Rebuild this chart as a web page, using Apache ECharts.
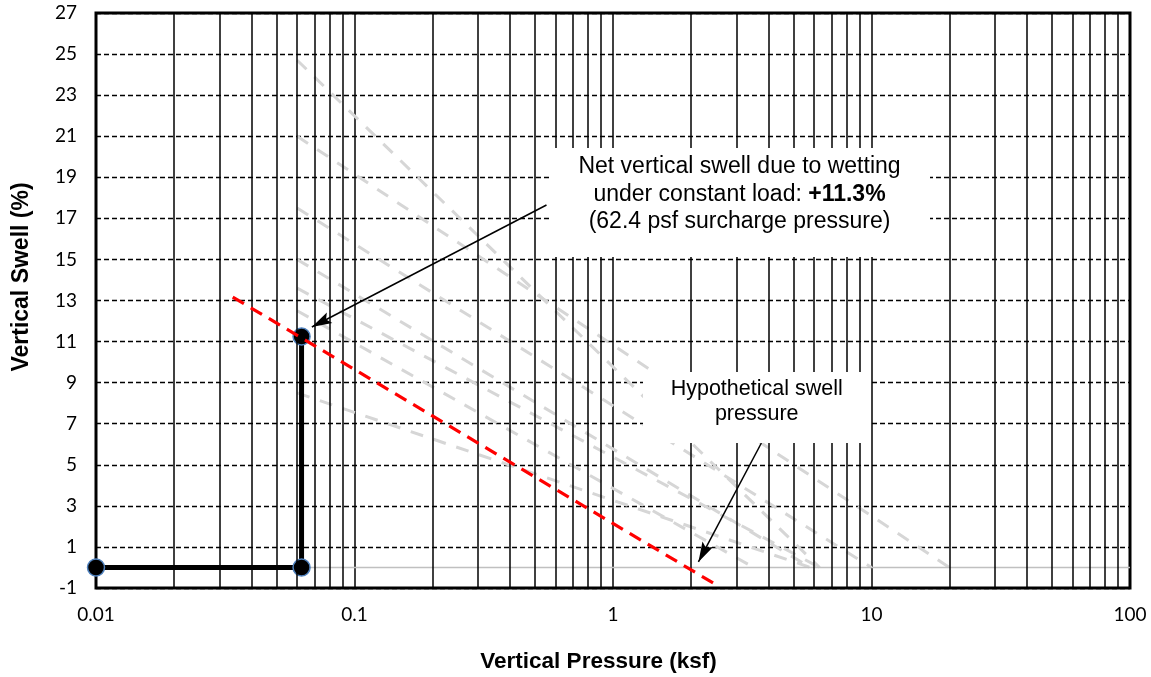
<!DOCTYPE html>
<html>
<head>
<meta charset="utf-8">
<script src="https://cdn.jsdelivr.net/npm/echarts@6/dist/echarts.min.js"></script>
<style>
html,body{margin:0;padding:0;background:#fff;}
#chart{width:1151px;height:677px;}
</style>
</head>
<body>
<div id="chart"></div>
<script>
// ---- data ----
const xTickLabels = ['0.01', '0.1', '1', '10', '100'];
const yMin = -1, yMax = 27, yStep = 2;

// measured test path: seating (0.01 ksf) -> surcharge (0.0624 ksf) -> swell after wetting
const testPath = [[0.01, 0], [0.0624, 0], [0.0624, 11.25]];
// light-gray zero swell reference line
const zeroLine = [[0.0624, 0], [100, 0]];
// red dashed hypothetical swell line
const hypotheticalLine = [[0.0338, 13.17], [2.51, -0.85]];
// light-gray dashed family of swell lines
const grayLine1 = [[0.06, 24.7], [6.3, 0]];
const grayLine2 = [[0.06, 21.0], [20, 0]];
const grayLine3 = [[0.06, 17.5], [10, 0]];
const grayLine4 = [[0.06, 15.0], [5.8, 0]];
const grayLine5 = [[0.06, 13.6], [6.3, 0]];
const grayLine6 = [[0.06, 12.5], [3.5, 0]];
const grayLine7 = [[0.06, 8.5], [5.8, 0]];
const grayLines = [grayLine1, grayLine2, grayLine3, grayLine4, grayLine5, grayLine6, grayLine7];
// annotation arrows [from, to]
const arrow1 = [[0.553, 17.65], [0.0684, 11.71]];
const arrow2 = [[3.75, 6.06], [2.14, 0.27]];

// minor log gridlines (2..9 x each decade)
const minorGridX = [];
for (let e = -2; e < 2; e++) {
  for (let k = 2; k < 10; k++) minorGridX.push(k * Math.pow(10, e));
}

const chart = echarts.init(document.getElementById('chart'));
const tickFont = 'Lato';
const arrowPath = 'path://M6,-20 M6,0 L12,20 L6,16 L0,20 Z';

const series = [];
series.push({
  type: 'line', data: [[1, -1]], symbol: 'none', lineStyle: { width: 0, opacity: 0 }, z: 1,
  silent: true,
  markLine: {
    silent: true, symbol: ['none', 'none'], label: { show: false },
    lineStyle: { color: '#000', width: 1.5, type: 'solid' },
    emphasis: { disabled: true },
    data: minorGridX.map(v => ({ xAxis: v }))
  }
});
grayLines.forEach(g => series.push({
  type: 'line', data: g, symbol: 'none', z: 2, silent: true,
  lineStyle: { color: '#d6d6d6', width: 3, type: [13, 11] }
}));
series.push({
  type: 'line', data: zeroLine, symbol: 'none', z: 3, silent: true,
  lineStyle: { color: '#c0c0c0', width: 1.5 }
});
series.push({
  type: 'line', data: testPath, z: 4, silent: true,
  symbol: 'circle', symbolSize: 17, showSymbol: true,
  lineStyle: { color: '#000', width: 5 },
  itemStyle: { color: '#000', borderColor: '#4f81bd', borderWidth: 1.5 }
});
series.push({
  type: 'line', data: hypotheticalLine, symbol: 'none', z: 5, silent: true,
  lineStyle: { color: '#ff0000', width: 3.2, type: [13, 8] }
});
series.push({
  type: 'line', data: [[1, -1]], symbol: 'none', lineStyle: { width: 0, opacity: 0 }, z: 6,
  silent: true,
  markLine: {
    silent: true, label: { show: false }, symbol: ['none', 'none'],
    lineStyle: { color: '#000', width: 1.5, type: 'solid' },
    data: [arrow1, arrow2].map(a => [
      { coord: a[0], symbol: 'none' },
      { coord: a[1], symbol: arrowPath, symbolSize: [12, 40] }
    ])
  }
});

chart.setOption({
  animation: false,
  grid: { left: 96, right: 21, top: 13, bottom: 89, show: true, borderColor: '#000', borderWidth: 3, backgroundColor: 'transparent' },
  xAxis: {
    type: 'log', logBase: 10, min: 0.01, max: 100,
    axisLine: { show: false }, axisTick: { show: false },
    splitLine: { show: true, lineStyle: { color: '#000', width: 1.5 } },
    axisLabel: {
      margin: 17, color: '#000', fontFamily: tickFont, fontSize: 19,
      formatter: v => xTickLabels[Math.round(Math.log10(v)) + 2]
    }
  },
  yAxis: {
    type: 'value', min: yMin, max: yMax, interval: yStep,
    axisLine: { show: false }, axisTick: { show: false },
    splitLine: { show: true, lineStyle: { color: '#000', width: 1.3, type: [5, 3] } },
    axisLabel: { margin: 19, color: '#000', fontFamily: tickFont, fontSize: 19 }
  },
  series: series,
  graphic: [
    { type: 'rect', z: 100, shape: { x: 552, y: 148, width: 378, height: 109 }, style: { fill: '#fff' } },
    { type: 'text', z: 101, x: 739.5, y: 194.5, style: {
        text: 'Net vertical swell due to wetting\nunder constant load: {b|+11.3%}\n(62.4 psf surcharge pressure)',
        fill: '#000', fontFamily: 'Liberation Sans', fontSize: 23, lineHeight: 27.5,
        align: 'center', verticalAlign: 'middle',
        rich: { b: { fontWeight: 'bold', fontFamily: 'Liberation Sans', fontSize: 23, lineHeight: 27.5, fill: '#000' } }
    } },
    { type: 'rect', z: 100, shape: { x: 643, y: 372, width: 227, height: 71 }, style: { fill: '#fff' } },
    { type: 'text', z: 101, x: 756.7, y: 401.5, style: {
        text: 'Hypothetical swell\npressure', fill: '#000',
        fontFamily: 'Liberation Sans', fontSize: 21.5, lineHeight: 25,
        align: 'center', verticalAlign: 'middle'
    } },
    { type: 'text', z: 101, x: 598.5, y: 662, style: {
        text: 'Vertical Pressure (ksf)', fill: '#000',
        fontFamily: 'Liberation Sans', fontWeight: 'bold', fontSize: 22.5,
        align: 'center', verticalAlign: 'middle'
    } },
    { type: 'text', z: 101, x: 22, y: 277, rotation: Math.PI / 2, style: {
        text: 'Vertical Swell (%)', fill: '#000',
        fontFamily: 'Liberation Sans', fontWeight: 'bold', fontSize: 23,
        align: 'center', verticalAlign: 'middle'
    } }
  ]
});
</script>
</body>
</html>
